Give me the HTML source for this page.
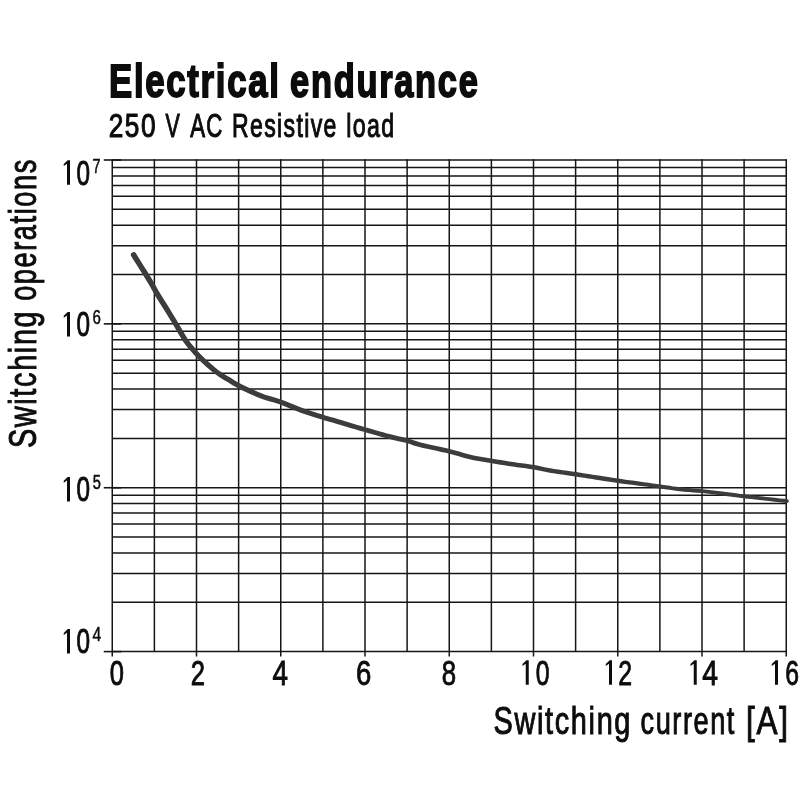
<!DOCTYPE html>
<html><head><meta charset="utf-8"><title>Electrical endurance</title>
<style>
html,body{margin:0;padding:0;background:#fff;}
body{width:800px;height:800px;overflow:hidden;}
svg{display:block;will-change:transform;}
text{font-family:"Liberation Sans",sans-serif;fill:#0c0c0c;stroke:#0c0c0c;stroke-linejoin:miter;stroke-miterlimit:2;}
</style></head><body>
<svg width="800" height="800" viewBox="0 0 800 800">
<rect width="800" height="800" fill="#fff"/>
<g stroke="#161616" stroke-width="1.5" fill="none">
<line x1="112.25" y1="159.25" x2="112.25" y2="656.61"/>
<line x1="154.38" y1="159.25" x2="154.38" y2="651.61"/>
<line x1="196.5" y1="159.25" x2="196.5" y2="656.61"/>
<line x1="238.62" y1="159.25" x2="238.62" y2="651.61"/>
<line x1="280.75" y1="159.25" x2="280.75" y2="656.61"/>
<line x1="322.88" y1="159.25" x2="322.88" y2="651.61"/>
<line x1="365" y1="159.25" x2="365" y2="656.61"/>
<line x1="407.12" y1="159.25" x2="407.12" y2="651.61"/>
<line x1="449.25" y1="159.25" x2="449.25" y2="656.61"/>
<line x1="491.38" y1="159.25" x2="491.38" y2="651.61"/>
<line x1="533.5" y1="159.25" x2="533.5" y2="656.61"/>
<line x1="575.62" y1="159.25" x2="575.62" y2="651.61"/>
<line x1="617.75" y1="159.25" x2="617.75" y2="656.61"/>
<line x1="659.88" y1="159.25" x2="659.88" y2="651.61"/>
<line x1="702" y1="159.25" x2="702" y2="656.61"/>
<line x1="744.12" y1="159.25" x2="744.12" y2="651.61"/>
<line x1="786.25" y1="159.25" x2="786.25" y2="656.61"/>
</g>
<g stroke="#161616" stroke-width="1.5" fill="none">
<line x1="112.25" y1="160" x2="786.75" y2="160"/>
<line x1="112.25" y1="167.5" x2="786.75" y2="167.5"/>
<line x1="112.25" y1="175.88" x2="786.75" y2="175.88"/>
<line x1="112.25" y1="185.38" x2="786.75" y2="185.38"/>
<line x1="112.25" y1="196.35" x2="786.75" y2="196.35"/>
<line x1="112.25" y1="209.33" x2="786.75" y2="209.33"/>
<line x1="112.25" y1="225.21" x2="786.75" y2="225.21"/>
<line x1="112.25" y1="245.68" x2="786.75" y2="245.68"/>
<line x1="112.25" y1="274.54" x2="786.75" y2="274.54"/>
<line x1="112.25" y1="323.87" x2="786.75" y2="323.87"/>
<line x1="112.25" y1="331.37" x2="786.75" y2="331.37"/>
<line x1="112.25" y1="339.75" x2="786.75" y2="339.75"/>
<line x1="112.25" y1="349.25" x2="786.75" y2="349.25"/>
<line x1="112.25" y1="360.22" x2="786.75" y2="360.22"/>
<line x1="112.25" y1="373.2" x2="786.75" y2="373.2"/>
<line x1="112.25" y1="389.08" x2="786.75" y2="389.08"/>
<line x1="112.25" y1="409.55" x2="786.75" y2="409.55"/>
<line x1="112.25" y1="438.41" x2="786.75" y2="438.41"/>
<line x1="112.25" y1="487.74" x2="786.75" y2="487.74"/>
<line x1="112.25" y1="495.24" x2="786.75" y2="495.24"/>
<line x1="112.25" y1="503.62" x2="786.75" y2="503.62"/>
<line x1="112.25" y1="513.12" x2="786.75" y2="513.12"/>
<line x1="112.25" y1="524.09" x2="786.75" y2="524.09"/>
<line x1="112.25" y1="537.07" x2="786.75" y2="537.07"/>
<line x1="112.25" y1="552.95" x2="786.75" y2="552.95"/>
<line x1="112.25" y1="573.42" x2="786.75" y2="573.42"/>
<line x1="112.25" y1="602.28" x2="786.75" y2="602.28"/>
<line x1="112.25" y1="651.61" x2="786.75" y2="651.61"/>
</g>
<g stroke="#161616" stroke-width="1.6" fill="none">
<line x1="103.75" y1="160" x2="121.25" y2="160"/>
<line x1="103.75" y1="323.87" x2="121.25" y2="323.87"/>
<line x1="103.75" y1="487.74" x2="121.25" y2="487.74"/>
<line x1="103.75" y1="651.61" x2="121.25" y2="651.61"/>
</g>
<path d="M131.27 256.26 L132.75 258.63 L134.82 261.92 L137.28 265.83 L139.92 270.04 L142.55 274.25 L144.97 278.15 L146.96 281.4 L149.57 285.83 L151.62 289.47 L153.5 292.83 L155.57 296.39 L157.91 300.2 L160.31 303.99 L162.69 307.74 L165.01 311.42 L167.21 315 L169.35 318.49 L171.49 322.01 L173.69 325.67 L176.03 329.67 L178.47 333.95 L180.89 338.09 L183.21 341.77 L186.95 346.79 L190.65 351 L193.44 354.21 L196.53 357.59 L200.26 361.3 L203.03 363.87 L206.15 366.67 L209.43 369.52 L212.67 372.22 L215.7 374.62 L220.18 377.72 L224.28 380.18 L227.95 382.33 L232.55 385.16 L237.16 387.78 L240.8 389.65 L244.69 391.52 L248.95 393.45 L252.48 395 L256.28 396.63 L260.21 398.23 L264.18 399.72 L269.15 401.25 L274.03 402.58 L279.48 404.29 L283.25 405.71 L287.41 407.39 L291.8 409.19 L296.26 410.99 L300.64 412.65 L305.12 414.21 L309.79 415.76 L314.32 417.22 L318.42 418.52 L321.78 419.57 L324.74 420.43 L329.33 421.68 L332.38 422.57 L336.24 423.71 L340.66 425.02 L345.43 426.43 L350.34 427.89 L355.18 429.32 L359.75 430.65 L363.82 431.84 L368.7 433.25 L373.33 434.58 L377.71 435.83 L381.85 436.99 L385.74 438.06 L389.41 439.04 L394.29 440.22 L398.49 441.13 L402.26 441.93 L405.85 442.8 L409.86 444.06 L413.67 445.41 L419.38 447.05 L422.97 447.91 L427.15 448.85 L431.72 449.85 L436.47 450.87 L441.17 451.89 L445.57 452.87 L449.43 453.78 L453.98 454.97 L457.96 456.11 L461.67 457.21 L465.42 458.27 L469.48 459.27 L473.87 460.19 L478.38 461.03 L482.93 461.81 L487.44 462.55 L491.82 463.28 L496.07 463.98 L500.25 464.66 L504.38 465.3 L508.5 465.94 L512.67 466.56 L516.95 467.18 L521.32 467.77 L525.64 468.35 L529.78 468.94 L533.61 469.53 L537.67 470.29 L541.21 471.06 L544.98 471.86 L549.62 472.72 L553.44 473.32 L557.68 473.95 L562.19 474.59 L566.8 475.23 L571.35 475.88 L575.67 476.51 L579.85 477.14 L584.03 477.77 L588.16 478.41 L592.18 479.03 L596.03 479.63 L599.65 480.19 L604 480.88 L607.52 481.46 L611.63 482.1 L617.69 482.98 L621.03 483.42 L624.93 483.93 L629.25 484.49 L633.85 485.07 L638.6 485.68 L643.36 486.28 L647.99 486.87 L652.36 487.43 L656.31 487.94 L659.72 488.38 L665.08 489.14 L669.18 489.78 L672.61 490.32 L675.96 490.8 L679.78 491.27 L684.16 491.7 L688.7 492.06 L693.25 492.38 L697.67 492.7 L701.81 493.06 L706.52 493.54 L710.89 494.05 L715.21 494.57 L719.76 495.14 L723.62 495.63 L727.6 496.15 L731.65 496.68 L735.72 497.22 L739.76 497.72 L743.66 498.19 L747.45 498.63 L751.29 499.06 L755.34 499.51 L759.79 500.01 L764.18 500.5 L769.24 501.06 L774.49 501.64 L779.46 502.19 L783.68 502.66 L786.69 502.99 A1.9 1.9 0 0 0 787.11 499.21 L787.11 499.21 L784.1 498.87 L779.88 498.4 L774.91 497.85 L769.66 497.26 L764.61 496.69 L760.21 496.19 L755.77 495.69 L751.72 495.23 L747.89 494.79 L744.12 494.35 L740.24 493.88 L736.22 493.37 L732.16 492.83 L728.11 492.29 L724.12 491.76 L720.24 491.26 L715.69 490.69 L711.36 490.15 L706.95 489.64 L702.19 489.14 L697.98 488.77 L693.54 488.44 L689 488.11 L684.51 487.75 L680.22 487.33 L676.49 486.86 L673.21 486.38 L669.8 485.84 L665.67 485.2 L660.28 484.42 L656.85 483.94 L652.89 483.39 L648.53 482.79 L643.9 482.16 L639.15 481.51 L634.41 480.86 L629.81 480.23 L625.5 479.64 L621.62 479.09 L618.31 478.62 L612.28 477.74 L608.23 477.1 L604.71 476.52 L600.35 475.81 L596.71 475.25 L592.86 474.64 L588.84 474.02 L584.71 473.38 L580.52 472.73 L576.33 472.09 L571.99 471.45 L567.42 470.8 L562.81 470.15 L558.32 469.51 L554.12 468.88 L550.38 468.28 L545.85 467.44 L542.17 466.64 L538.56 465.85 L534.39 465.07 L530.45 464.45 L526.26 463.85 L521.93 463.25 L517.58 462.66 L513.33 462.04 L509.2 461.41 L505.09 460.77 L500.97 460.11 L496.82 459.44 L492.58 458.72 L488.19 457.99 L483.7 457.24 L479.2 456.46 L474.77 455.63 L470.52 454.73 L466.62 453.76 L462.97 452.72 L459.27 451.62 L455.22 450.44 L450.57 449.22 L446.62 448.29 L442.19 447.29 L437.48 446.25 L432.73 445.22 L428.18 444.22 L424.05 443.28 L420.62 442.45 L415.11 440.86 L411.37 439.52 L407.15 438.2 L403.33 437.26 L399.51 436.44 L395.37 435.54 L390.59 434.36 L387.01 433.4 L383.15 432.33 L379.04 431.17 L374.67 429.92 L370.05 428.58 L365.18 427.16 L361.12 425.97 L356.57 424.63 L351.73 423.19 L346.82 421.73 L342.06 420.31 L337.64 418.99 L333.78 417.84 L330.67 416.92 L326.07 415.66 L323.22 414.83 L319.91 413.79 L315.84 412.49 L311.34 411.03 L306.74 409.49 L302.36 407.95 L298.09 406.32 L293.7 404.54 L289.32 402.73 L285.09 401.01 L281.12 399.51 L275.47 397.71 L270.57 396.37 L265.82 394.88 L262.08 393.47 L258.26 391.9 L254.53 390.29 L251.05 388.75 L246.88 386.84 L243.11 385.01 L239.64 383.22 L235.2 380.69 L230.65 377.87 L226.95 375.69 L223.03 373.33 L218.8 370.38 L215.99 368.15 L212.85 365.51 L209.65 362.72 L206.6 359.97 L203.94 357.5 L200.36 353.92 L197.41 350.67 L194.65 347.5 L191.1 343.44 L187.59 338.73 L185.48 335.33 L183.11 331.27 L180.68 326.99 L178.31 322.93 L176.1 319.24 L173.95 315.69 L171.81 312.18 L169.59 308.58 L167.27 304.86 L164.88 301.1 L162.51 297.33 L160.23 293.61 L158.22 290.15 L156.37 286.81 L154.29 283.11 L151.64 278.6 L149.62 275.28 L147.2 271.37 L144.57 267.14 L141.93 262.92 L139.47 259 L137.41 255.71 L135.93 253.34 A2.75 2.75 0 0 0 131.27 256.26 Z" fill="#3c3c3c"/>
<text transform="translate(109 97.3) scale(0.7402 1)" font-size="47.0" font-weight="bold" letter-spacing="2.3" stroke-width="1.8">Electrical</text>
<text transform="translate(290.1 97.3) scale(0.7333 1)" font-size="47.0" font-weight="bold" letter-spacing="2.3" stroke-width="1.8">endurance</text>
<text transform="translate(108.67 137.3) scale(0.7761 1)" font-size="33.8" letter-spacing="2" stroke-width="1.1">250</text>
<text transform="translate(165.38 137.3) scale(0.634 1)" font-size="33.8" stroke-width="1.1">V</text>
<text transform="translate(190.25 137.3) scale(0.6569 1)" font-size="33.8" letter-spacing="2" stroke-width="1.1">AC</text>
<text transform="translate(231.97 137.3) scale(0.6821 1)" font-size="33.8" letter-spacing="2" stroke-width="1.1">Resistive</text>
<text transform="translate(346.23 137.3) scale(0.6861 1)" font-size="33.8" letter-spacing="2" stroke-width="1.1">load</text>
<text transform="translate(36 448.12) rotate(-90) scale(0.7488 1)" font-size="38.6" letter-spacing="2.2" stroke-width="1.0">Switching</text>
<text transform="translate(36 300.83) rotate(-90) scale(0.7057 1)" font-size="38.6" letter-spacing="2.2" stroke-width="1.0">operations</text>
<text transform="translate(493.62 734) scale(0.7488 1)" font-size="38.6" letter-spacing="2.2" stroke-width="1.0">Switching</text>
<text transform="translate(640.55 734) scale(0.7038 1)" font-size="38.6" letter-spacing="2.2" stroke-width="1.0">current</text>
<text transform="translate(746.02 734) scale(0.8157 1)" font-size="38.6" letter-spacing="2.2" stroke-width="1.0">[A]</text>
<text transform="translate(76.38 184.5) scale(0.7061 1)" font-size="34.5" stroke-width="0.9">0</text>
<text transform="translate(92.4 172.55) scale(0.734 1)" font-size="19.6" stroke-width="0.5">7</text>
<text transform="translate(76.38 336.2) scale(0.7061 1)" font-size="34.5" stroke-width="0.9">0</text>
<text transform="translate(92.57 323.55) scale(0.7698 1)" font-size="19.6" stroke-width="0.5">6</text>
<text transform="translate(76.38 501.2) scale(0.7061 1)" font-size="34.5" stroke-width="0.9">0</text>
<text transform="translate(92.75 488.5) scale(0.75 1)" font-size="19.6" stroke-width="0.5">5</text>
<text transform="translate(76.38 653.4) scale(0.7061 1)" font-size="34.5" stroke-width="0.9">0</text>
<text transform="translate(92.5 640.55) scale(0.7984 1)" font-size="19.6" stroke-width="0.5">4</text>
<text transform="translate(109.68 684.6) scale(0.7391 1)" font-size="34.5" stroke-width="0.9">0</text>
<text transform="translate(190.7 684.6) scale(0.7425 1)" font-size="34.5" stroke-width="0.9">2</text>
<text transform="translate(272.38 684.6) scale(0.8056 1)" font-size="34.5" stroke-width="0.9">4</text>
<text transform="translate(356 684.6) scale(0.7986 1)" font-size="34.5" stroke-width="0.9">6</text>
<text transform="translate(441.75 684.6) scale(0.747 1)" font-size="34.5" stroke-width="0.9">8</text>
<text transform="translate(535.75 684.6) scale(0.72 1)" font-size="34.5" stroke-width="0.9">0</text>
<text transform="translate(618.25 684.6) scale(0.72 1)" font-size="34.5" stroke-width="0.9">2</text>
<text transform="translate(702.25 684.6) scale(0.8196 1)" font-size="34.5" stroke-width="0.9">4</text>
<text transform="translate(785.25 684.6) scale(0.72 1)" font-size="34.5" stroke-width="0.9">6</text>
<path transform="translate(70 184.7)" d="M0 0V-24.5H-2.3L-6.25 -20.7V-18.7L-3 -20.9V0Z" fill="#0c0c0c"/>
<path transform="translate(70 336.4)" d="M0 0V-24.5H-2.3L-6.25 -20.7V-18.7L-3 -20.9V0Z" fill="#0c0c0c"/>
<path transform="translate(70 501.4)" d="M0 0V-24.5H-2.3L-6.25 -20.7V-18.7L-3 -20.9V0Z" fill="#0c0c0c"/>
<path transform="translate(70 653.6)" d="M0 0V-24.5H-2.3L-6.25 -20.7V-18.7L-3 -20.9V0Z" fill="#0c0c0c"/>
<path transform="translate(528.75 684.75)" d="M0 0V-24.5H-2.3L-6.25 -20.7V-18.7L-3 -20.9V0Z" fill="#0c0c0c"/>
<path transform="translate(612 684.75)" d="M0 0V-24.5H-2.3L-6.25 -20.7V-18.7L-3 -20.9V0Z" fill="#0c0c0c"/>
<path transform="translate(696.75 684.75)" d="M0 0V-24.5H-2.3L-6.25 -20.7V-18.7L-3 -20.9V0Z" fill="#0c0c0c"/>
<path transform="translate(778 684.75)" d="M0 0V-24.5H-2.3L-6.25 -20.7V-18.7L-3 -20.9V0Z" fill="#0c0c0c"/>
</svg>
</body></html>
